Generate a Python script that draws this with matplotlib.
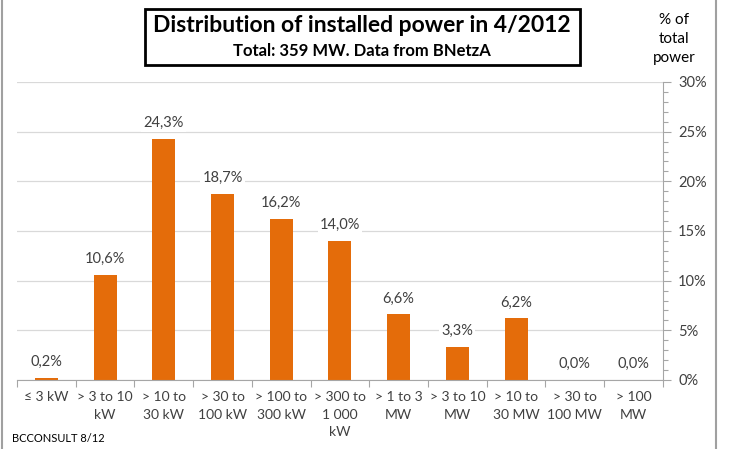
import matplotlib
matplotlib.use("Agg")
import matplotlib.pyplot as plt
from matplotlib.patches import Rectangle
from matplotlib.lines import Line2D
from matplotlib.ticker import MultipleLocator, FuncFormatter

plt.rcParams['font.family'] = ['Lato', 'DejaVu Sans']

categories = ["≤ 3 kW", "> 3 to 10\nkW", "> 10 to\n30 kW", "> 30 to\n100 kW", "> 100 to\n300 kW",
              "> 300 to\n1 000\nkW", "> 1 to 3\nMW", "> 3 to 10\nMW", "> 10 to\n30 MW",
              "> 30 to\n100 MW", "> 100\nMW"]
shares = [0.2, 10.6, 24.3, 18.7, 16.2, 14.0, 6.6, 3.3, 6.2, 0.0, 0.0]
value_labels = ["0,2%", "10,6%", "24,3%", "18,7%", "16,2%", "14,0%", "6,6%", "3,3%", "6,2%", "0,0%", "0,0%"]

bar_color = "#E46C0A"
text_color = "#404040"
grid_color = "#D9D9D9"

fig = plt.figure(figsize=(7.39, 4.49), dpi=100)
ax = fig.add_axes([0.023, 0.1537, 0.874, 0.6637])

x = list(range(len(categories)))
ax.bar(x, shares, width=0.39, color=bar_color, zorder=2)

ax.set_xlim(-0.5, len(categories) - 0.5)
ax.set_ylim(0, 30)

# value axis on the right
ax.yaxis.tick_right()
ax.yaxis.set_major_locator(MultipleLocator(5))
ax.yaxis.set_minor_locator(MultipleLocator(1))
ax.yaxis.set_major_formatter(FuncFormatter(lambda v, p: f"{int(round(v))}%"))
ax.tick_params(axis='y', which='major', length=6, width=0.8, color="#A6A6A6",
               labelsize=10.5, labelcolor=text_color, pad=5, right=True, left=False)
ax.tick_params(axis='y', which='minor', length=3.5, width=0.8, color="#A6A6A6", right=True, left=False)
ax.grid(axis='y', which='major', color=grid_color, linewidth=0.9, zorder=0)

# category axis with ticks on the boundaries
ax.set_xticks(x)
ax.set_xticklabels(categories, fontsize=10, color=text_color, linespacing=1.55, va='top')
ax.tick_params(axis='x', which='major', length=0, pad=8)
ax.set_xticks([i - 0.5 for i in range(len(categories) + 1)], minor=True)
ax.tick_params(axis='x', which='minor', length=5, width=0.8, color="#A6A6A6", bottom=True)

for side in ['top', 'left']:
    ax.spines[side].set_visible(False)
ax.spines['bottom'].set_color("#A6A6A6")
ax.spines['right'].set_color("#A6A6A6")
ax.spines['bottom'].set_linewidth(0.8)
ax.spines['right'].set_linewidth(0.8)

for xi, v, lab in zip(x, shares, value_labels):
    ax.annotate(lab, (xi, v), xytext=(0, 16), textcoords='offset pixels',
                ha='center', va='center', fontsize=10.5, color=text_color, zorder=3,
                bbox=dict(boxstyle='square,pad=0.15', fc='white', ec='none'))

# title box
fig.add_artist(Rectangle((145 / 739, 1 - 65 / 449), 435 / 739, 56 / 449, transform=fig.transFigure,
                         fill=False, edgecolor='black', linewidth=2))
fig.text(362 / 739, 1 - 26 / 449, "Distribution of installed power in 4/2012", ha='center', va='center',
         fontsize=16.5, fontweight='bold', color='black')
fig.text(362 / 739, 1 - 51 / 449, "Total: 359 MW. Data from BNetzA", ha='center', va='center',
         fontsize=12, fontweight='bold', color='black')

fig.text(674 / 739, 1 - 39 / 449, "% of\ntotal\npower", ha='center', va='center', fontsize=11,
         color='black', linespacing=1.45)

fig.text(12 / 739, 1 - 438 / 449, "BCCONSULT 8/12", ha='left', va='center', fontsize=8, color='black')

# frame edges
fig.add_artist(Line2D([1.5 / 739, 1.5 / 739], [0, 1], transform=fig.transFigure, color="#A0A0A0", linewidth=1.5))
fig.add_artist(Line2D([716 / 739, 716 / 739], [0, 1], transform=fig.transFigure, color="#A0A0A0", linewidth=1.5))

fig.savefig("out.png", dpi=100)
